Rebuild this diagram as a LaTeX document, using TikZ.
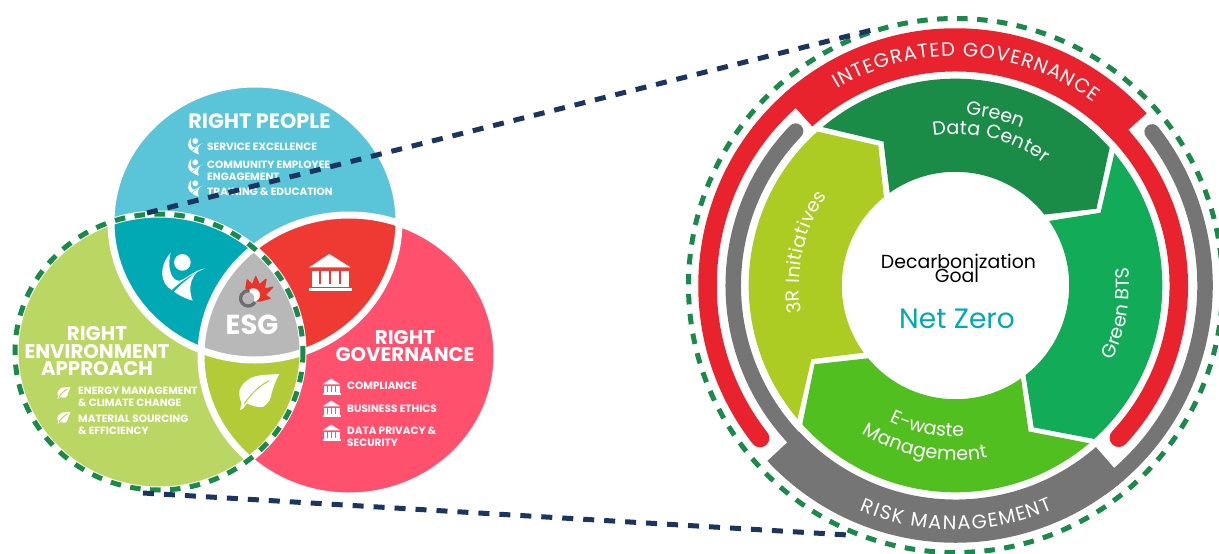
\documentclass[tikz,border=0pt]{standalone}
\usepackage{fontspec}
\setmainfont{Poppins}
\usetikzlibrary{decorations.text}
\definecolor{vblue}{HTML}{5AC4D8}
\definecolor{vteal}{HTML}{00A9B4}
\definecolor{vred}{HTML}{EF3A33}
\definecolor{vpink}{HTML}{FF506E}
\definecolor{vlime}{HTML}{BBD763}
\definecolor{vleaf}{HTML}{B3CB37}
\definecolor{vgray}{HTML}{B8B8B8}
\definecolor{ringred}{HTML}{E8232E}
\definecolor{ringgray}{HTML}{757575}
\definecolor{segdark}{HTML}{1B8C47}
\definecolor{segbts}{HTML}{12AB57}
\definecolor{segwaste}{HTML}{52BF21}
\definecolor{segolive}{HTML}{ACCC24}
\definecolor{navyline}{HTML}{1B3560}
\definecolor{greenline}{HTML}{1A8A4A}
\definecolor{netzero}{HTML}{00A9B4}
\definecolor{logored}{HTML}{E8352B}
\definecolor{loggray}{HTML}{6D6E71}
\def\ElB{(255,222) ellipse [x radius=144,y radius=138]}
\def\ElL{(159,352) ellipse [x radius=144,y radius=138]}
\def\ElR{(349,355.5) ellipse [x radius=148,y radius=140.5]}
\newcommand{\arcfont}{\fontsize{19.5}{19.5}\selectfont\color{white}}
\newcommand{\seqfont}{\fontsize{19}{19}\selectfont\color{white}}
\tikzset{
  vhead/.style={font=\fontsize{19.8}{17.5}\selectfont\bfseries,text=white,inner sep=0pt,align=center},
  vitem/.style={font=\fontsize{10.5}{12}\selectfont\bfseries,text=white,inner sep=0pt,align=left,anchor=west},
  navydash/.style={draw=navyline,line width=5pt,dash pattern=on 11pt off 10pt},
  greendash/.style={draw=greenline,line width=5pt,dash pattern=on 10.5pt off 9.5pt},
  pics/bankicon/.style={code={
    \fill[white] (-21.3,-5.3) -- (-1,-18.7) -- (20.3,-5.3) -- cycle;
    \fill[white] (-18.7,-1.3) rectangle (-11.5,11.3);
    \fill[white] (-9,-1.3) rectangle (-1.5,11.3);
    \fill[white] (1,-1.3) rectangle (8.5,11.3);
    \fill[white] (11,-1.3) rectangle (18.5,11.3);
    \fill[white] (-18.7,11.3) rectangle (18.5,14.2);
    \fill[white] (-21.3,15.5) rectangle (21.7,18.7);
  }},
  pics/leaficon/.style={code={
    \fill[white] (20,-17.7) .. controls (8,-17) and (-3,-17) .. (-9.3,-13.3)
      .. controls (-16,-9) and (-21,-3) .. (-20,1.7)
      .. controls (-20,6) and (-18.5,9) .. (-17.7,11.7)
      -- (-19.3,18.3) -- (-16,16.7) -- (-12.7,11.7)
      .. controls (-6,15) and (1,16) .. (4,15)
      .. controls (10,11) and (12,6) .. (12.3,1.7)
      .. controls (14,-5) and (17,-12) .. (20,-17.7) -- cycle;
    \draw[#1,line width=1pt] (-15,12) .. controls (-8,2) and (0,-6) .. (10,-11);
  }},
  pics/personicon/.style={code={
    \fill[white] (0.7,-14.3) circle (8.3);
    \fill[white] (-11,-24) .. controls (-23.3,-10) and (-21.7,6.7) .. (-10,13.3)
      .. controls (-3.3,6.7) and (8.3,-1.7) .. (23.3,-8.3)
      .. controls (13.3,-6.7) and (5,1.7) .. (-1.7,4)
      .. controls (-10,5) and (-15,-8.3) .. (-11,-24) -- cycle;
    \fill[white] (-7.7,15) .. controls (-1.7,8.3) and (6.7,1.7) .. (15,-4.3)
      .. controls (8.3,3.3) and (6.7,13.3) .. (11,24)
      .. controls (3.3,21.7) and (-3.3,18.3) .. (-7.7,15) -- cycle;
  }}
}
\begin{document}
\begin{tikzpicture}[x=1pt,y=-1pt]
\clip (0,0) rectangle (1219,554);
\fill[white] (0,0) rectangle (1219,554);

% ---------- Venn diagram ----------
\fill[vblue] \ElB;
\fill[vlime] \ElL;
\fill[vpink] \ElR;
\begin{scope}\clip \ElB; \fill[vteal] \ElL; \end{scope}
\begin{scope}\clip \ElB; \fill[vred] \ElR; \end{scope}
\begin{scope}\clip \ElL; \fill[vleaf] \ElR; \end{scope}
\begin{scope}\clip \ElB; \clip \ElL; \fill[vgray] \ElR; \end{scope}
\draw[white,line width=7pt] \ElB;
\draw[white,line width=7pt] \ElL;
\draw[white,line width=7pt] \ElR;

% icons in the petals
\pic at (181.7,276.7) {personicon};
\pic at (330.3,272.7) {bankicon};
\pic at (259.3,391.7) {leaficon={vleaf}};
\pic[scale=.35] at (195,146) {personicon};
\pic[scale=.35] at (195,167.3) {personicon};
\pic[scale=.35] at (195,188.3) {personicon};
\pic[scale=.33] at (64,392.7) {leaficon={vlime}};
\pic[scale=.33] at (64,417.7) {leaficon={vlime}};
\pic[scale=.43] at (331.7,386.7) {bankicon};
\pic[scale=.43] at (331.7,408.7) {bankicon};
\pic[scale=.43] at (331.7,432.7) {bankicon};

% ESG logo
\filldraw[logored,line width=1.4pt,line join=round] (246,288) -- (247.3,280) -- (252.5,285) -- (255.7,276.7) -- (259.5,285)
  -- (266,279.3) -- (264,289.3) -- (272.7,287.3) -- (265,295) -- (270,298.3)
  -- (260,301) -- (250,300) -- cycle;
\fill[white] (253.3,295) circle (6.7);
\fill[vgray] (248.3,298.3) circle (6);
\draw[loggray,line width=3.3pt] (248.3,298.3) ++(30:7.7) arc[start angle=30,end angle=280,radius=7.7];

% Venn texts
\node[vhead,font=\fontsize{20.8}{17.5}\selectfont\bfseries] (hpeople) at (259.5,121.5) {RIGHT PEOPLE};
\node[vitem] (ipeople1) at (207,147) {SERVICE EXCELLENCE};
\node[vitem] (ipeople2) at (207,171) {COMMUNITY EMPLOYEE\\ENGAGEMENT};
\node[vitem] (ipeople3) at (207,191.5) {TRAINING \& EDUCATION};
\node[vhead] (henv) at (97,351.5) {RIGHT\\ENVIRONMENT\\APPROACH};
\node[vitem] (ienv1) at (78,396.5) {ENERGY MANAGEMENT\\\& CLIMATE CHANGE};
\node[vitem] (ienv2) at (78,424.5) {MATERIAL SOURCING\\\& EFFICIENCY};
\node[vhead] (hgov) at (405,346) {RIGHT\\GOVERNANCE};
\node[vitem] (igov1) at (347,385.5) {COMPLIANCE};
\node[vitem] (igov2) at (347,409) {BUSINESS ETHICS};
\node[vitem] (igov3) at (347,436.5) {DATA PRIVACY \&\\SECURITY};
\node[font=\fontsize{27.5}{27.5}\selectfont\bfseries,text=white,inner sep=0pt] (esg) at (252,325) {ESG};

% ---------- Wheel ----------
\begin{scope}[shift={(955.5,285.5)},x=1.029pt,y=1.029pt]
  % red ring
  \fill[ringred] (132:250) arc[start angle=132,end angle=42,radius=250]
     -- (42:208) arc[start angle=42,end angle=132,radius=208] -- cycle;
  \draw[ringred,line width=18.5pt,line cap=round] (128:241) arc[start angle=128,end angle=218,radius=241];
  \draw[ringred,line width=18.5pt,line cap=round] (46:217) arc[start angle=46,end angle=-43,radius=217];
  % gray ring
  \fill[ringgray] (223:250) arc[start angle=223,end angle=311,radius=250]
     -- (311:208) arc[start angle=311,end angle=223,radius=208] -- cycle;
  \draw[ringgray,line width=15.5pt,line cap=round] (136:216) arc[start angle=136,end angle=228,radius=216];
  \draw[ringgray,line width=15.5pt,line cap=round] (-54:242.5) arc[start angle=-54,end angle=38,radius=242.5];
  % segments
  \fill[segdark] (130:201) arc[start angle=130,end angle=41.8,radius=201]
     -- (137,74.6) -- (38.6:110.5) arc[start angle=38.6,end angle=125.4,radius=110.5]
     -- (-70,139.9) -- cycle;
  \fill[segbts] (39.8:201) arc[start angle=39.8,end angle=-47.9,radius=201]
     -- (76,-137.9) -- (-52:110.5) arc[start angle=-52,end angle=34.6,radius=110.5]
     -- (141,70.7) -- cycle;
  \fill[segwaste] (-49.7:201) arc[start angle=-49.7,end angle=-137.8,radius=201]
     -- (-137,-76.5) -- (-140.2:110.5) arc[start angle=-140.2,end angle=-54.8,radius=110.5]
     -- (71,-141.8) -- cycle;
  \fill[segolive] (220.2:201) arc[start angle=220.2,end angle=131.9,radius=201]
     -- (-75,136) -- (129:110.5) arc[start angle=129,end angle=216.2,radius=110.5]
     -- (-140,-71.6) -- cycle;
  % curved labels
  \path[postaction={decorate},decoration={text along path,text align={fit to path},
     text={|\arcfont|INTEGRATED GOVERNANCE}}] (121:223) arc[start angle=121,end angle=53,radius=223];
  \path[postaction={decorate},decoration={text along path,text align={fit to path},
     text={|\arcfont|RISK MANAGEMENT}}] (247:237.5) arc[start angle=247,end angle=293.5,radius=237.5];
  \path[postaction={decorate},decoration={text along path,text align={fit to path},
     text={|\seqfont|Green}}] (86.5:166) arc[start angle=86.5,end angle=67.4,radius=166];
  \path[postaction={decorate},decoration={text along path,text align={fit to path},
     text={|\seqfont|Data Center}}] (98.5:147) arc[start angle=98.5,end angle=54,radius=147];
  \path[postaction={decorate},decoration={text along path,text align={fit to path},
     text={|\seqfont|Green BTS}}] (-25.5:169) arc[start angle=-25.5,end angle=4.5,radius=169];
  \path[postaction={decorate},decoration={text along path,text align={fit to path},
     text={|\seqfont|3R Initiatives}}] (190:152) arc[start angle=190,end angle=145,radius=152];
  \path[postaction={decorate},decoration={text along path,text align={fit to path},
     text={|\seqfont|E-waste}}] (244:147) arc[start angle=244,end angle=273,radius=147];
  \path[postaction={decorate},decoration={text along path,text align={fit to path},
     text={|\seqfont|Management}}] (237.6:170) arc[start angle=237.6,end angle=280.6,radius=170];
\end{scope}
\node[font=\fontsize{18.9}{18.9}\selectfont,text=black,inner sep=0pt] (decarb) at (958.5,261) {Decarbonization};
\node[font=\fontsize{18.9}{18.9}\selectfont,text=black,inner sep=0pt] (goal) at (957,275.5) {Goal};
\node[font=\fontsize{28}{28}\selectfont,text=netzero,inner sep=0pt] (netz) at (957,319) {Net Zero};

% ---------- dashed rings and connectors ----------
\draw[greendash] (159,352) ellipse [x radius=144,y radius=138];
\draw[greendash] (955.5,285.5) circle (267);
\coordinate (ltop) at (147,213);
\coordinate (lbot) at (143,493);
\coordinate (rtop) at (872,30);
\coordinate (rbot) at (848,535);
\draw[navydash] (ltop) -- (rtop);
\draw[navydash] (lbot) -- (rbot);
\end{tikzpicture}
\end{document}
